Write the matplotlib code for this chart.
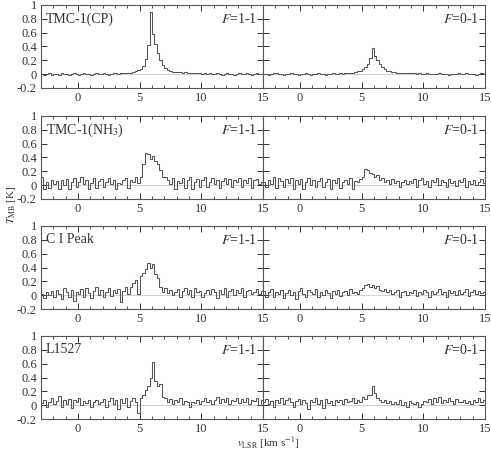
import numpy as np
import matplotlib
matplotlib.use("Agg")
import matplotlib.pyplot as plt
from matplotlib.ticker import MultipleLocator, FuncFormatter

plt.rcParams['font.family'] = ['Liberation Serif', 'DejaVu Serif']
plt.rcParams['mathtext.fontset'] = 'stix'
plt.rcParams['axes.unicode_minus'] = False

# velocity channels: start and width (km/s)
v_start = -3.0
v_width = 0.2

sources = ["TMC-1(CP)", "TMC-1(NH$_3$)", "C I Peak", "L1527"]
lines = ["$F$=1-1", "$F$=0-1"]

cp_11 = [0.00, -0.01, 0.00, 0.01, -0.01, 0.00, 0.00, -0.01, 0.01, 0.00,
         0.00, -0.01, 0.00, 0.01, 0.00, -0.01, 0.00, 0.01, 0.00, 0.00,
         -0.01, 0.00, 0.01, 0.00, 0.00, 0.01, 0.00, -0.01, 0.00, 0.01,
         0.01, 0.00, 0.02, 0.01, 0.01, 0.02, 0.02, 0.03, 0.04, 0.06,
         0.07, 0.12, 0.22, 0.42, 0.90, 0.58, 0.44, 0.30, 0.20, 0.13,
         0.09, 0.06, 0.04, 0.03, 0.03, 0.03, 0.03, 0.02, 0.03, 0.02,
         0.02, 0.01, 0.02, 0.01, 0.01, 0.00, 0.01, 0.00, 0.01, 0.00,
         0.00, 0.01, 0.00, -0.01, 0.00, 0.01, 0.00, 0.00, -0.01, 0.00,
         0.01, 0.00, 0.00, 0.01, 0.00, -0.01, 0.00, 0.01, 0.00, 0.00]
cp_01 = [0.00, 0.00, -0.01, 0.00, 0.01, 0.02, 0.00, 0.00, -0.01, 0.00,
         0.00, 0.01, 0.00, 0.00, -0.01, 0.00, 0.00, 0.01, 0.00, -0.01,
         0.00, 0.00, 0.01, 0.00, 0.00, -0.01, 0.00, 0.00, 0.01, 0.00,
         0.00, 0.01, 0.00, 0.01, 0.01, 0.02, 0.02, 0.03, 0.04, 0.05,
         0.07, 0.10, 0.15, 0.24, 0.38, 0.26, 0.20, 0.14, 0.10, 0.07,
         0.05, 0.04, 0.03, 0.03, 0.02, 0.02, 0.02, 0.01, 0.02, 0.01,
         0.01, 0.01, 0.00, 0.01, 0.00, 0.00, 0.01, 0.00, 0.00, 0.00,
         0.00, 0.01, 0.00, 0.00, 0.00, -0.01, 0.00, 0.00, 0.00, 0.01,
         0.00, 0.00, 0.01, 0.00, 0.00, 0.00, -0.01, 0.00, 0.01, 0.00]
nh3_11 = [0.12, -0.05, 0.05, -0.04, 0.08, 0.02, 0.06, -0.06, 0.07, 0.00,
          0.09, -0.05, 0.04, 0.10, -0.03, 0.05, 0.12, 0.02, 0.08, -0.06,
          0.03, 0.11, -0.04, 0.06, 0.09, -0.02, 0.04, 0.10, 0.01, 0.07,
          -0.05, 0.03, 0.02, 0.08, 0.10, -0.04, 0.07, 0.04, 0.12, 0.03,
          0.12, 0.30, 0.47, 0.45, 0.38, 0.42, 0.35, 0.30, 0.22, 0.12,
          0.12, 0.08, 0.02, 0.10, -0.05, 0.06, 0.03, 0.11, -0.04, 0.08,
          0.12, -0.06, 0.05, 0.09, -0.02, 0.07, 0.12, -0.03, 0.04, 0.10,
          0.01, 0.08, -0.04, 0.06, 0.11, 0.02, 0.09, -0.03, 0.07, 0.04,
          0.10, -0.02, 0.08, 0.03, 0.11, -0.04, 0.07, 0.09, 0.02, 0.05]
nh3_01 = [0.05, -0.02, 0.08, 0.01, 0.12, -0.04, 0.10, 0.06, -0.03, 0.09,
          0.03, 0.11, -0.05, 0.07, 0.02, 0.09, -0.06, 0.05, 0.10, 0.00,
          0.08, -0.03, 0.06, 0.11, -0.02, 0.04, 0.09, -0.05, 0.07, 0.03,
          0.10, -0.04, 0.05, 0.08, 0.02, 0.11, -0.06, 0.06, 0.04, 0.09,
          0.12, 0.24, 0.22, 0.18, 0.16, 0.12, 0.15, 0.08, 0.11, 0.04,
          0.07, 0.02, 0.09, 0.03, 0.06, -0.02, 0.05, 0.08, 0.01, 0.06,
          0.03, 0.09, -0.02, 0.07, 0.10, 0.02, 0.06, -0.03, 0.08, 0.04,
          0.11, 0.00, 0.07, 0.05, -0.02, 0.09, 0.03, 0.06, -0.01, 0.08,
          0.04, 0.10, -0.02, 0.06, 0.02, 0.08, 0.00, 0.05, 0.09, 0.03]
ci_11 = [0.02, -0.04, 0.05, 0.00, 0.06, -0.03, 0.08, 0.02, -0.05, 0.10,
         0.04, -0.02, 0.07, -0.08, 0.05, 0.01, 0.09, -0.03, 0.11, 0.03,
         -0.04, 0.06, 0.12, 0.00, 0.08, -0.02, 0.05, 0.10, -0.01, 0.07,
         0.03, 0.09, -0.10, 0.06, 0.12, 0.02, 0.12, 0.18, 0.22, 0.02,
         0.28, 0.32, 0.38, 0.47, 0.40, 0.45, 0.30, 0.25, 0.12, 0.05,
         0.10, 0.03, 0.07, 0.00, 0.05, 0.09, -0.02, 0.06, 0.11, 0.01,
         0.08, -0.03, 0.10, 0.04, 0.06, -0.02, 0.03, 0.07, 0.01, 0.09,
         0.05, -0.04, 0.08, 0.02, 0.11, -0.03, 0.06, 0.09, 0.00, 0.07,
         0.03, 0.10, -0.02, 0.06, 0.08, 0.01, 0.05, 0.09, 0.02, 0.06]
ci_01 = [0.06, -0.02, 0.04, 0.09, -0.03, 0.05, 0.01, 0.07, -0.04, 0.03,
         0.08, 0.00, 0.05, -0.05, 0.06, 0.10, 0.02, -0.03, 0.07, 0.04,
         0.01, 0.09, -0.02, 0.05, 0.00, 0.07, 0.03, -0.04, 0.06, 0.02,
         0.08, -0.01, 0.04, 0.06, 0.00, 0.09, 0.03, 0.05, 0.02, 0.07,
         0.10, 0.14, 0.16, 0.12, 0.15, 0.10, 0.13, 0.08, 0.06, 0.09,
         0.04, 0.07, 0.01, 0.05, 0.08, -0.02, 0.04, 0.06, 0.00, 0.05,
         0.03, 0.08, -0.01, 0.05, 0.02, 0.07, 0.04, -0.03, 0.06, 0.02,
         0.05, 0.09, 0.01, 0.04, -0.02, 0.07, 0.03, 0.06, 0.00, 0.08,
         0.02, 0.05, 0.09, -0.01, 0.04, 0.07, 0.02, 0.06, 0.03, 0.05]
l1527_11 = [0.03, 0.08, -0.02, 0.05, 0.10, 0.01, 0.06, 0.13, -0.03, 0.08,
            0.02, 0.09, -0.04, 0.07, 0.04, 0.10, 0.00, 0.06, 0.03, 0.08,
            -0.02, 0.05, 0.07, 0.01, 0.04, 0.09, -0.03, 0.06, 0.10, 0.02,
            0.07, -0.05, 0.09, 0.03, 0.10, -0.02, 0.06, 0.11, 0.04, -0.12,
            0.10, 0.15, 0.22, 0.28, 0.40, 0.62, 0.35, 0.28, 0.30, 0.12,
            0.10, 0.04, 0.09, 0.02, 0.08, 0.05, 0.10, 0.01, 0.06, 0.04,
            -0.02, 0.05, 0.03, 0.07, 0.01, 0.06, 0.10, 0.04, 0.08, 0.02,
            0.07, 0.12, 0.03, 0.09, 0.05, 0.11, 0.02, 0.08, 0.06, 0.10,
            0.03, 0.09, 0.05, 0.11, 0.02, 0.08, 0.06, 0.10, 0.00, 0.07]
l1527_01 = [0.05, 0.09, 0.01, 0.06, -0.03, 0.08, 0.03, 0.10, 0.02, 0.07,
            0.11, 0.04, -0.02, 0.06, 0.09, 0.01, 0.07, 0.03, -0.05, 0.08,
            0.05, 0.10, 0.02, 0.07, -0.04, 0.09, 0.03, 0.06, 0.00, 0.08,
            0.04, 0.07, 0.02, 0.09, 0.05, 0.06, 0.10, 0.03, 0.08, 0.05,
            0.12, 0.09, 0.15, 0.14, 0.27, 0.18, 0.10, 0.08, 0.05, 0.07,
            0.03, 0.06, 0.01, 0.05, 0.02, 0.07, 0.00, 0.04, -0.02, 0.06,
            0.03, 0.01, 0.05, -0.03, 0.02, 0.06, 0.04, 0.09, 0.02, 0.10,
            0.05, 0.12, 0.03, 0.08, 0.04, 0.10, 0.06, 0.02, 0.09, 0.05,
            0.04, 0.08, 0.03, 0.06, 0.02, 0.07, 0.05, 0.11, 0.04, 0.08]

spectra = [[cp_11, cp_01], [nh3_11, nh3_01], [ci_11, ci_01], [l1527_11, l1527_01]]

W, H = 491, 451
fig = plt.figure(figsize=(W / 100, H / 100), dpi=100)
lefts = [41, 263]
pw = 222
tops = [5, 116, 226, 336]
ph = 83
ink = '#333333'

fmt = FuncFormatter(lambda v, p: '%g' % round(v, 2))

for r in range(4):
    for c in range(2):
        ax = fig.add_axes([lefts[c] / W, 1 - (tops[r] + ph) / H, pw / W, ph / H])
        vals = np.array(spectra[r][c])
        edges = v_start + v_width * np.arange(len(vals) + 1)
        ax.axhline(0, color='#c8c8c8', lw=0.6, zorder=1)
        ax.stairs(vals, edges, color='#555555', lw=0.75, baseline=None, zorder=2)
        ax.set_xlim(-3, 15)
        ax.set_ylim(-0.2, 1.0)
        ax.xaxis.set_major_locator(MultipleLocator(5))
        ax.xaxis.set_minor_locator(MultipleLocator(1))
        ax.yaxis.set_major_locator(MultipleLocator(0.2))
        ax.yaxis.set_major_formatter(fmt)
        ax.tick_params(which='both', direction='in', top=True, right=True,
                       labelsize=9, colors=ink, pad=3)
        ax.tick_params(which='major', length=4, width=0.7)
        ax.tick_params(which='minor', length=2, width=0.6)
        for s in ax.spines.values():
            s.set_linewidth(0.8)
            s.set_color('#555555')
        if c == 1:
            ax.tick_params(labelleft=False)
        else:
            ax.text(-2.6, 0.8, sources[r], fontsize=10, va='center', ha='left', color=ink)
        ax.text(14.5, 0.8, lines[c], fontsize=10, va='center', ha='right', color=ink)

fig.text(12 / W, 1 - 205 / H, r"$T_{\rm MB}$ [K]", rotation=90, ha='center', va='center',
         fontsize=8, color=ink)
fig.text(268 / W, 1 - 443 / H, r"$v_{\rm LSR}$ [km s$^{-1}$]", ha='center', va='center',
         fontsize=8, color=ink)

fig.savefig("out.png", dpi=100)
